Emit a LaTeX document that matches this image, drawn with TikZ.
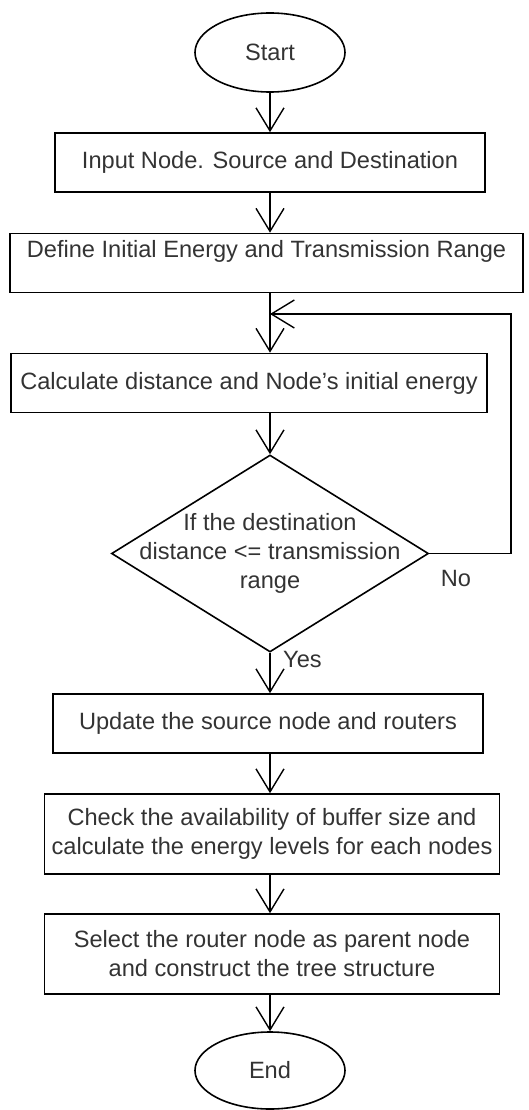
\documentclass[tikz,border=0pt]{standalone}
\usepackage{fontspec}
\setmainfont{Liberation Sans}
\usetikzlibrary{arrows.meta,shapes.geometric}
\definecolor{txtc}{RGB}{51,51,51}

\begin{document}
\begin{tikzpicture}[x=1pt,y=-1pt,>={Straight Barb[length=23pt,width=28pt]},
  every node/.style={font=\fontsize{23.6}{29}\selectfont,text=txtc},
  box/.style={draw,line width=1.6pt,minimum height=59pt,inner sep=0pt,align=center},
  term/.style={draw,ellipse,line width=1.6pt,minimum width=150pt,minimum height=79pt,inner sep=0pt},
  cond/.style={draw,diamond,line width=1.6pt,minimum width=317pt,minimum height=197pt,inner sep=0pt},
  lbl/.style={inner sep=0pt},
  flow/.style={->,line width=1.4pt}]
\useasboundingbox (0,0) rectangle (528,1110);
% main column
\node[term] (start) at (270,52.5) {Start};
\node[box,minimum width=430pt] (inp) at (270,162.5) {Input Node. Source and Destination};
\node[box,minimum width=513pt,text depth=28pt] (def) at (266.5,263) {Define Initial Energy and Transmission Range};
\node[box,minimum width=476pt] (calc) at (249,383) {Calculate distance and Node’s initial energy};
\node[cond] (chk) at (270,553.5) {};
\node[lbl,align=center] (chktxt) at (chk) {If the destination\\distance <= transmission\\range};
\node[box,minimum width=430pt] (upd) at (268,723.5) {Update the source node and routers};
\node[box,minimum width=455pt,minimum height=80pt] (buf) at (272,834) {Check the availability of buffer size and\\calculate the energy levels for each nodes};
\node[box,minimum width=455pt,minimum height=80pt] (sel) at (272,954) {Select the router node as parent node\\and construct the tree structure};
\node[term,minimum height=77pt] (stop) at (270,1070.5) {End};
\coordinate (back) at (270,314);
% connectors
\draw[flow] (start) -- (inp);
\draw[flow] (inp.south) -- (inp.south |- def.north);
\draw[flow] (def.south -| inp) -- (calc.north -| inp);
\draw[flow] (calc.south -| inp) -- (chk.north);
\draw[flow] (chk.east) -- ++(81.5,0) |- (back);
\draw[flow] (chk.south) -- (chk.south |- upd.north);
\draw[flow] (upd.south -| chk) -- (buf.north -| chk);
\draw[flow] (buf.south -| chk) -- (sel.north -| chk);
\draw[flow] (sel.south -| chk) -- (stop);
\node[lbl,anchor=west] (yes) at (283,659) {Yes};
\node[lbl] (no) at (456,578) {No};
\end{tikzpicture}
\end{document}
